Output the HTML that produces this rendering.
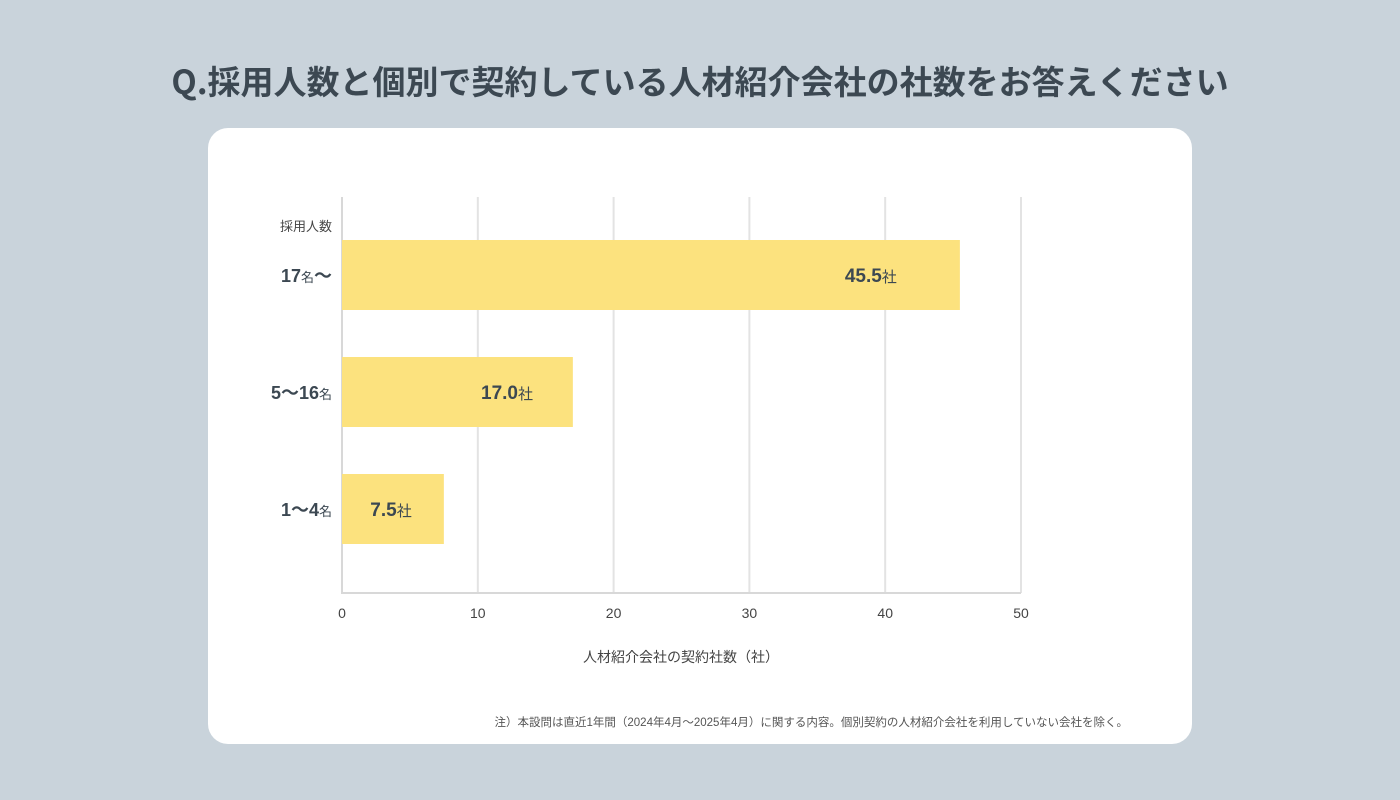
<!DOCTYPE html>
<html><head><meta charset="utf-8"><style>
body{margin:0;width:1400px;height:800px;background:#c9d3db;font-family:"Liberation Sans","Noto Sans CJK JP",sans-serif;overflow:hidden;position:relative}
#title{position:absolute;top:56px;left:0;width:1400px;text-align:center;font-size:33px;font-weight:bold;color:#3c4852;font-family:"Noto Sans CJK JP",sans-serif}
#card{position:absolute;left:208px;top:128px;width:984px;height:616px;background:#fff;border-radius:20px}
svg{position:absolute;left:0;top:0}
</style></head><body>
<div id="title">Q.採用人数と個別で契約している人材紹介会社の社数をお答えください</div>
<div id="card"></div>
<svg id="chart" width="1400" height="800"></svg>
<script>
const categories=["17名〜","5〜16名","1〜4名"];
const values=[45.5,17.0,7.5];
const ticks=[0,10,20,30,40,50];
const NS="http://www.w3.org/2000/svg";
const svg=document.getElementById('chart');
const x0=342,x1=1021,xMax=50,top0=197,bottom=593;
const xs=v=>x0+(x1-x0)*v/xMax;
const rowY=i=>240+i*117;
const barH=70;
function mk(t,a,parent){const e=document.createElementNS(NS,t);for(const k in a)e.setAttribute(k,a[k]);(parent||svg).appendChild(e);return e;}
ticks.forEach(t=>{
  if(t>0){const l=mk('line',{x1:xs(t),x2:xs(t),y1:top0,y2:bottom,stroke:'#e3e3e3','stroke-width':2});
  
  }
  const tx=mk('text',{x:xs(t),y:618,'text-anchor':'middle','font-size':14,fill:'#444'});
  tx.textContent=t;
  
  
});
const ax=mk('path',{d:`M${x0} ${top0}V${bottom}H${x1}`,fill:'none',stroke:'#d8d8d8','stroke-width':2});


categories.forEach((c,i)=>{
  const y=rowY(i),w=xs(values[i])-x0;
  const r=mk('rect',{x:x0,y:y,width:w,height:barH,fill:'#fce27e'});
  
  
  const m=c.match(/^([0-9〜]+)(名)(〜?)$/)||[];
  const lb=mk('text',{x:332,y:y+barH/2+7,'text-anchor':'end','font-size':18,'font-weight':'bold',fill:'#3c4852'});
  lb.innerHTML=c.replace(/名/,'<tspan font-size="13" font-weight="normal">名</tspan>');
  
  
  const vl=mk('text',{x:x0+w-26-w*0.06,y:y+barH/2+7,'text-anchor':'end','font-size':19,'font-weight':'bold',fill:'#3c4852'});
  vl.innerHTML=values[i].toFixed(1)+'<tspan font-size="15" font-weight="normal">社</tspan>';
  
  
});
const yt=mk('text',{x:332,y:231,'text-anchor':'end','font-size':13,fill:'#444'});
yt.textContent='採用人数';


const xt=mk('text',{x:681,y:662,'text-anchor':'middle','font-size':14,fill:'#444'});
xt.textContent='人材紹介会社の契約社数（社）';


const nt=mk('text',{x:1128,y:726,'text-anchor':'end','font-size':11.5,fill:'#555'});
nt.textContent='注）本設問は直近1年間（2024年4月〜2025年4月）に関する内容。個別契約の人材紹介会社を利用していない会社を除く。';


</script>
</body></html>
